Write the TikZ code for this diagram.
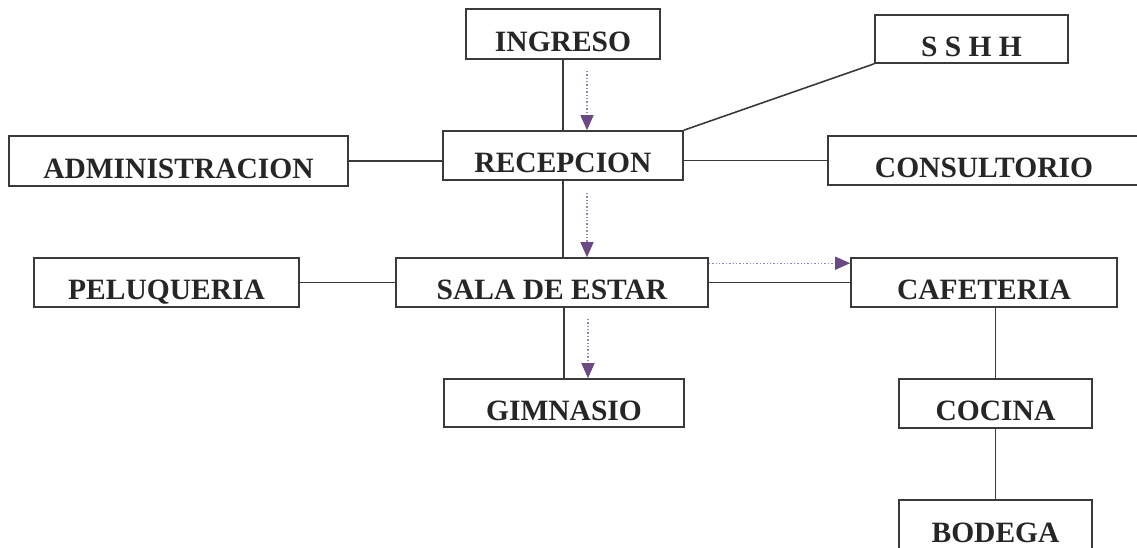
\documentclass[tikz,border=0pt]{standalone}
\usepackage{fontspec}
\setmainfont{Liberation Serif}
\usetikzlibrary{arrows.meta}
\definecolor{boxline}{HTML}{3A3A3A}
\definecolor{flow}{HTML}{6A4A85}
\definecolor{flowdot}{HTML}{9A80B0}
\newcommand{\lowtxt}[1]{\raisebox{-7pt}{#1}}
\tikzset{
  room/.style={draw=boxline, line width=1.6pt, fill=white, inner sep=0pt,
    text height=20pt, text depth=0pt, font=\fontsize{29.5}{30}\selectfont\bfseries, text=black!85},
  link/.style={draw=boxline, line width=1.6pt},
  flowarrow/.style={draw=flowdot, line width=1.4pt, dotted,
    -{Triangle[length=15pt,width=13pt,fill=flow,color=flow]}}
}
\begin{document}
\begin{tikzpicture}[x=1pt,y=-1pt]
\useasboundingbox (0,0) rectangle (1137,547);
\clip (0,0) rectangle (1137,547);
\node[room, minimum width=194pt, minimum height=50pt] (ingreso) at (563,34) {\lowtxt{INGRESO}};
\node[room, minimum width=240pt, minimum height=49pt] (recepcion) at (563,155.5) {\lowtxt{RECEPCION}};
\node[room, minimum width=339pt, minimum height=50pt] (admin) at (178.5,161) {\lowtxt{ADMINISTRACION}};
\node[room, minimum width=193pt, minimum height=48pt] (sshh) at (971.5,39) {\lowtxt{S S H H}};
\node[room, minimum width=312pt, minimum height=49pt] (consultorio) at (984,160.5) {\lowtxt{CONSULTORIO}};
\node[room, minimum width=265pt, minimum height=49pt] (peluqueria) at (166.5,282.5) {\lowtxt{PELUQUERIA}};
\node[room, minimum width=312pt, minimum height=49pt] (sala) at (552,282.5) {\lowtxt{SALA DE ESTAR}};
\node[room, minimum width=266pt, minimum height=49pt] (cafeteria) at (984,282.5) {\lowtxt{CAFETERIA}};
\node[room, minimum width=240pt, minimum height=48pt] (gimnasio) at (564,403) {\lowtxt{GIMNASIO}};
\node[room, minimum width=193pt, minimum height=49pt] (cocina) at (995.5,403.5) {\lowtxt{COCINA}};
\node[room, minimum width=193pt, minimum height=50pt] (bodega) at (995.5,525) {\lowtxt{BODEGA}};
% solid connectors
\draw[link] (ingreso.south) -- (recepcion.north);
\draw[link] (admin.east) -- (admin.east -| recepcion.west);
\draw[link] (sshh.south west) -- (recepcion.north east);
\draw[link] (recepcion.east |- consultorio.west) -- (consultorio.west);
\draw[link] (recepcion.south) -- (recepcion.south |- sala.north);
\draw[link] (peluqueria.east) -- (peluqueria.east -| sala.west);
\draw[link] (sala.east) -- (cafeteria.west);
\draw[link] (gimnasio.north |- sala.south) -- (gimnasio.north);
\draw[link] (cocina.north |- cafeteria.south) -- (cocina.north);
\draw[link] (cocina.south) -- (bodega.north);
% flow arrows
\draw[flowarrow] ([xshift=24pt,yshift=-11pt]ingreso.south) -- ([xshift=24pt]ingreso.south |- recepcion.north);
\draw[flowarrow] ([xshift=24pt,yshift=-12pt]recepcion.south) -- ([xshift=24pt]recepcion.south |- sala.north);
\draw[flowarrow] ([xshift=24pt,yshift=-11pt]gimnasio.north |- sala.south) -- ([xshift=24pt]gimnasio.north);
\draw[flowarrow] ([yshift=-6pt]sala.north east) -- ([yshift=-6pt]cafeteria.north west);
\end{tikzpicture}
\end{document}
